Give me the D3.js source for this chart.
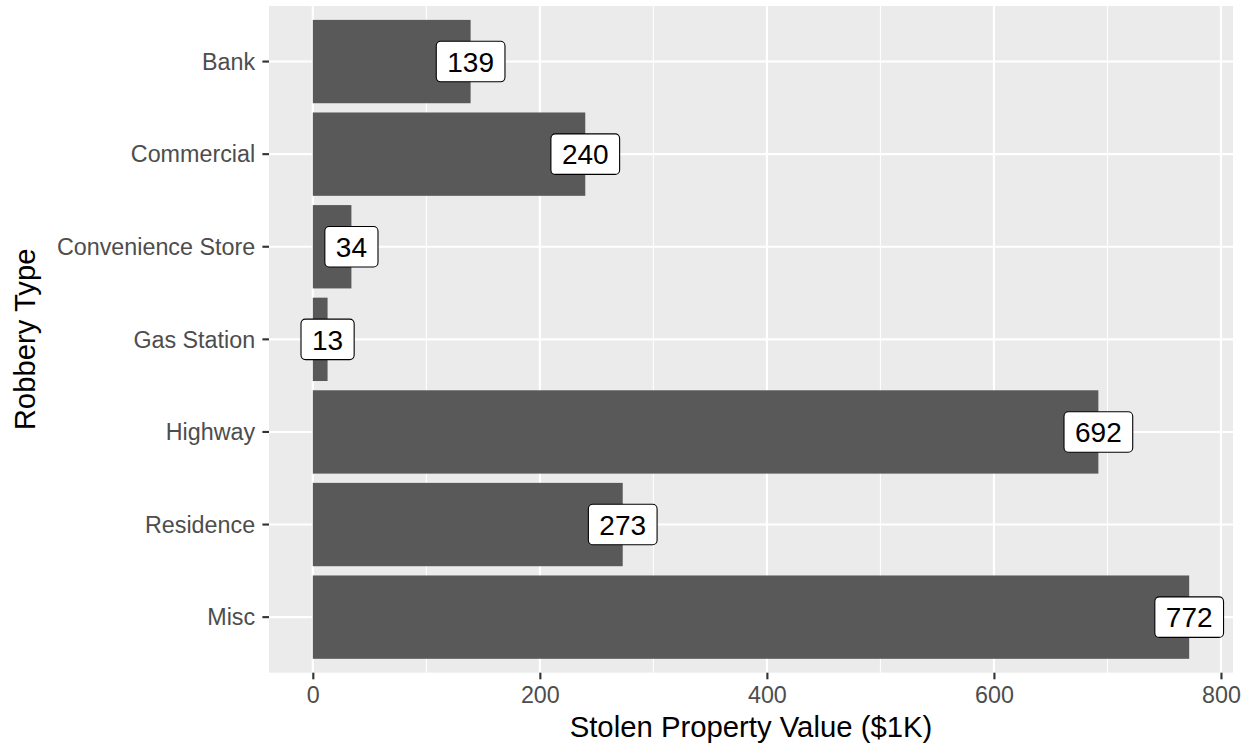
<!DOCTYPE html>
<html>
<head>
<meta charset="utf-8">
<script src="https://cdn.jsdelivr.net/npm/d3@7"></script>
<style>
  html, body { margin: 0; padding: 0; background: #fff; }
  svg { display: block; font-family: "Liberation Sans", Arial, Helvetica, sans-serif; }
</style>
</head>
<body>
<svg id="chart" width="1249" height="748"></svg>
<script>
// ---- data ----
const categories = ["Bank", "Commercial", "Convenience Store", "Gas Station", "Highway", "Residence", "Misc"];
const values = [139, 240, 34, 13, 692, 273, 772];
const xTicks = [0, 200, 400, 600, 800];
const xMinorTicks = [100, 300, 500, 700];
const xTitle = "Stolen Property Value ($1K)";
const yTitle = "Robbery Type";

const data = categories.map((c, i) => ({ cat: c, val: values[i] }));

const W = 1249, H = 748;
const panel = { left: 269, right: 1233, top: 6, bottom: 672.7 };

const svg = d3.select("#chart");

const maxV = d3.max(values);
const expand = 0.05 * maxV;
const x = d3.scaleLinear().domain([0 - expand, maxV + expand]).range([panel.left, panel.right]);
const y = d3.scaleBand().domain(categories).range([panel.top, panel.bottom])
  .paddingInner(0.1).paddingOuter(0.15).align(0.5);
const yc = c => y(c) + y.bandwidth() / 2;

// panel background
svg.append("rect")
  .attr("x", panel.left).attr("y", panel.top)
  .attr("width", panel.right - panel.left).attr("height", panel.bottom - panel.top)
  .attr("fill", "#EBEBEB");

// minor grid
svg.append("g").selectAll("line").data(xMinorTicks).join("line")
  .attr("x1", d => x(d)).attr("x2", d => x(d))
  .attr("y1", panel.top).attr("y2", panel.bottom)
  .attr("stroke", "#fff").attr("stroke-width", 1.07);

// major grid x
svg.append("g").selectAll("line").data(xTicks).join("line")
  .attr("x1", d => x(d)).attr("x2", d => x(d))
  .attr("y1", panel.top).attr("y2", panel.bottom)
  .attr("stroke", "#fff").attr("stroke-width", 2.13);

// major grid y
svg.append("g").selectAll("line").data(categories).join("line")
  .attr("x1", panel.left).attr("x2", panel.right)
  .attr("y1", d => yc(d)).attr("y2", d => yc(d))
  .attr("stroke", "#fff").attr("stroke-width", 2.13);

// bars
svg.append("g").selectAll("rect").data(data).join("rect")
  .attr("x", x(0))
  .attr("y", d => y(d.cat))
  .attr("width", d => x(d.val) - x(0))
  .attr("height", y.bandwidth())
  .attr("fill", "#595959");

// labels
const lblFont = 28;
const lg = svg.append("g");
data.forEach(d => {
  const g = lg.append("g");
  const rect = g.append("rect");
  const t = g.append("text")
    .attr("x", x(d.val)).attr("y", yc(d.cat) + 10.3)
    .attr("text-anchor", "middle")
    .attr("font-size", lblFont)
    .attr("fill", "#000")
    .text(d.val);
  const tw = t.node().getComputedTextLength();
  const bw = tw + 22, bh = 40.5;
  rect.attr("x", x(d.val) - bw / 2).attr("y", yc(d.cat) - bh / 2)
    .attr("width", bw).attr("height", bh)
    .attr("rx", 4.5).attr("ry", 4.5)
    .attr("fill", "#fff").attr("stroke", "#000").attr("stroke-width", 1.1);
});

// x axis ticks
const xAxis = d3.axisBottom(x).tickValues(xTicks).tickSize(6.6).tickPadding(7.5).tickFormat(d3.format("d"));
const gx = svg.append("g").attr("transform", `translate(0,${panel.bottom})`).call(xAxis);
gx.select(".domain").remove();
gx.selectAll(".tick line").attr("stroke", "#333").attr("stroke-width", 2.13);
gx.selectAll(".tick text").attr("fill", "#4D4D4D").attr("font-size", 23.3)
  .attr("font-family", "Liberation Sans, Arial, sans-serif").attr("dy", "0.71em");

// y axis ticks
const yAxis = d3.axisLeft(y).tickSize(6.6).tickPadding(7.3);
const gy = svg.append("g").attr("transform", `translate(${panel.left},0)`).call(yAxis);
gy.select(".domain").remove();
gy.selectAll(".tick line").attr("stroke", "#333").attr("stroke-width", 2.13);
gy.selectAll(".tick text").attr("fill", "#4D4D4D").attr("font-size", 23.3)
  .attr("font-family", "Liberation Sans, Arial, sans-serif").attr("dy", "0.35em");

// axis titles
svg.append("text")
  .attr("x", (panel.left + panel.right) / 2).attr("y", 737)
  .attr("text-anchor", "middle").attr("font-size", 29.3).attr("fill", "#000")
  .text(xTitle);

svg.append("text")
  .attr("transform", `translate(34.5,${(panel.top + panel.bottom) / 2}) rotate(-90)`)
  .attr("text-anchor", "middle").attr("font-size", 29.3).attr("fill", "#000")
  .text(yTitle);
</script>
</body>
</html>
